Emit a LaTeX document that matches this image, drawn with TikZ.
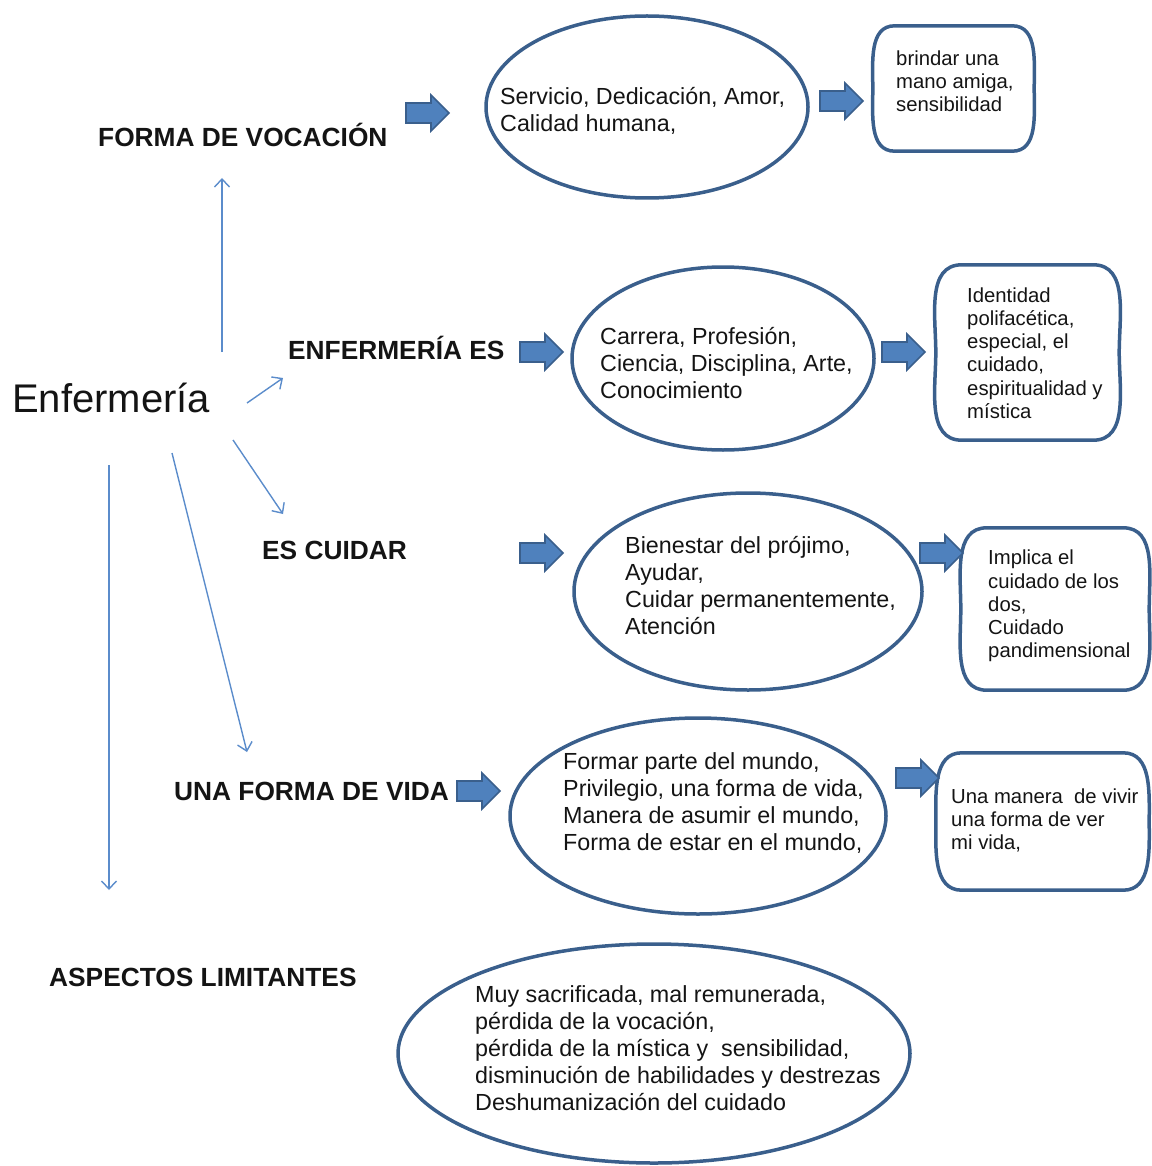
\documentclass[tikz,border=0pt]{standalone}
\usepackage{fontspec}
\setmainfont{Liberation Sans}
\usetikzlibrary{arrows.meta,shapes.geometric}
\definecolor{edge}{HTML}{3A5F8C}
\definecolor{arrfill}{HTML}{4F81BD}
\definecolor{thinblue}{HTML}{5B8CCB}
\definecolor{ink}{HTML}{141414}

\begin{document}
\begin{tikzpicture}[x=1pt,y=-1pt,
  oval/.style={ellipse,draw=edge,line width=3.5pt,inner sep=0pt},
  boxarea/.style={rectangle,inner sep=0pt},
  boxline/.style={draw=edge,line width=3.5pt},
  bodytext/.style={anchor=west,align=left,inner sep=0pt,text=ink,font=\fontsize{23.3}{27}\selectfont},
  boxtext/.style={anchor=west,align=left,inner sep=0pt,text=ink,font=\fontsize{20.3}{23.2}\selectfont},
  label/.style={anchor=base west,inner sep=0pt,text=ink,font=\bfseries\fontsize{26.3}{30}\selectfont},
  thinarrow/.style={draw=thinblue,line width=1.4pt,-{Straight Barb[length=8pt,width=15pt]}},
  blockarrow/.pic={\draw[fill=arrfill,draw=edge,line width=1.6pt,line join=miter]
      (0,-10)--(25,-10)--(25,-18)--(43,0)--(25,18)--(25,10)--(0,10)--cycle;}
]
\useasboundingbox (0,0) rectangle (1151,1166);

% central term and row labels
\node[anchor=base west,inner sep=0pt,text=ink,font=\fontsize{40}{44}\selectfont] (enf) at (12,412) {Enfermería};
\node[label] (voc) at (98,146.5) {FORMA DE VOCACIÓN};
\node[label] (es) at (288,359) {ENFERMERÍA ES};
\node[label] (cuid) at (262,559) {ES CUIDAR};
\node[label] (vida) at (174,800) {UNA FORMA DE VIDA};
\node[label] (lim) at (49,986) {ASPECTOS LIMITANTES};

% thin arrows leaving the central term
\coordinate (u0) at (222,352); \coordinate (u1) at (222,178);
\coordinate (a0) at (247,403); \coordinate (a1) at (283,378);
\coordinate (c0) at (233,440); \coordinate (c1) at (283,514);
\coordinate (v0) at (172,453); \coordinate (v1) at (247,752);
\coordinate (d0) at (109,465); \coordinate (d1) at (109,890);
\draw[thinarrow] (u0) -- (u1);
\draw[thinarrow] (a0) -- (a1);
\draw[thinarrow] (c0) -- (c1);
\draw[thinarrow] (v0) -- (v1);
\draw[thinarrow] (d0) -- (d1);

% ovals
\node[oval,minimum width=322,minimum height=182] (e1) at (647,107) {};
\node[oval,minimum width=302,minimum height=183] (e2) at (723,358.5) {};
\node[oval,minimum width=348,minimum height=197] (e3) at (748,591.5) {};
\node[oval,minimum width=376,minimum height=196] (e4) at (698,816) {};
\node[oval,minimum width=512,minimum height=219] (e5) at (654,1053.5) {};

\node[bodytext] (t1) at (500,110.5) {Servicio, Dedicación, Amor,\\Calidad humana,};
\node[bodytext] (t2) at (600,363) {Carrera, Profesión,\\Ciencia, Disciplina, Arte,\\Conocimiento};
\node[bodytext] (t3) at (625,586) {Bienestar del prójimo,\\Ayudar,\\Cuidar permanentemente,\\Atención};
\node[bodytext] (t4) at (563,803) {Formar parte del mundo,\\Privilegio, una forma de vida,\\Manera de asumir el mundo,\\Forma de estar en el mundo,};
\node[bodytext] (t5) at (475,1048) {Muy sacrificada, mal remunerada,\\pérdida de la vocación,\\pérdida de la mística y\ \ sensibilidad,\\disminución de habilidades y destrezas\\Deshumanización del cuidado};

% right-hand boxes with bulging sides
\node[boxarea,minimum width=161,minimum height=125] (b1) at (953.5,88.5) {};
\node[boxarea,minimum width=183,minimum height=175] (b2) at (1027.5,352.5) {};
\node[boxarea,minimum width=188,minimum height=162] (b3) at (1055,609) {};
\node[boxarea,minimum width=213,minimum height=137] (b4) at (1042.5,821.5) {};
\foreach \b/\a in {b1/22,b2/26,b3/26,b4/26}{
  \draw[boxline] ([xshift=\a pt]\b.north west) -- ([xshift=-\a pt]\b.north east)
    to[out=0,in=90] (\b.east) to[out=-90,in=0] ([xshift=-\a pt]\b.south east)
    -- ([xshift=\a pt]\b.south west) to[out=180,in=-90] (\b.west)
    to[out=90,in=180] cycle;
}
\node[boxtext] (s1) at (896,81) {brindar una\\mano amiga,\\sensibilidad};
\node[boxtext] (s2) at (967,353) {Identidad\\polifacética,\\especial, el\\cuidado,\\espiritualidad y\\mística};
\node[boxtext] (s3) at (988,606) {Implica el\\cuidado de los\\dos,\\Cuidado\\pandimensional};
\node[boxtext] (s4) at (951,820.5) {Una manera\ \ de vivir\\una forma de ver\\mi vida,};

% block arrows between the columns
\pic at (406,113) {blockarrow};
\pic at (820,101) {blockarrow};
\pic at (520,352) {blockarrow};
\pic at (882,352) {blockarrow};
\pic at (520,553) {blockarrow};
\pic at (920,553) {blockarrow};
\pic at (457,791) {blockarrow};
\pic at (896,778) {blockarrow};
\end{tikzpicture}
\end{document}
